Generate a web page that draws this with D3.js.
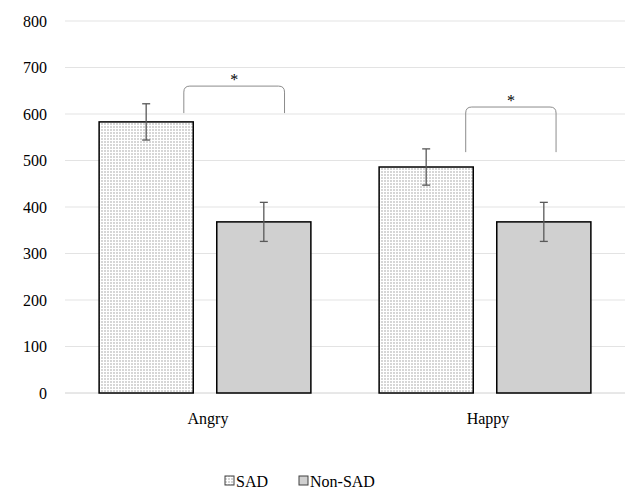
<!DOCTYPE html>
<html>
<head>
<meta charset="utf-8">
<script src="https://cdn.jsdelivr.net/npm/d3@7"></script>
</head>
<body style="margin:0">
<script>
const categories = ["Angry", "Happy"];
const groups = ["SAD", "Non-SAD"];
const means = { "SAD": [583, 486], "Non-SAD": [368, 368] };
const errors = { "SAD": [39, 39], "Non-SAD": [42, 42] };
const yTicks = [0, 100, 200, 300, 400, 500, 600, 700, 800];
// significance brackets (values on the y scale)
const brackets = [
  { cat: "Angry", top: 660, bottom: 602 },
  { cat: "Happy", top: 615, bottom: 518 }
];

const width = 637, height = 491;
const margin = { top: 21, right: 12, bottom: 98, left: 65 };
const font = "Liberation Serif, serif";

const svg = d3.select("body").append("svg")
  .attr("width", width)
  .attr("height", height)
  .attr("font-family", font);

const defs = svg.append("defs");
const pat = defs.append("pattern")
  .attr("id", "dots")
  .attr("width", 3).attr("height", 3)
  .attr("patternUnits", "userSpaceOnUse");
pat.append("rect").attr("width", 3).attr("height", 3).attr("fill", "#ffffff");
pat.append("rect").attr("width", 2).attr("height", 2).attr("fill", "#d6d6d6");

const x0 = d3.scaleBand()
  .domain(categories)
  .range([margin.left, width - margin.right]);

const x1 = d3.scaleBand()
  .domain(groups)
  .range([0, x0.bandwidth()])
  .paddingInner(0.2)
  .paddingOuter(0.29);

const y = d3.scaleLinear()
  .domain([0, 800])
  .range([height - margin.bottom, margin.top]);

// gridlines
svg.append("g")
  .selectAll("line")
  .data(yTicks)
  .join("line")
  .attr("x1", margin.left)
  .attr("x2", width - margin.right)
  .attr("y1", d => y(d))
  .attr("y2", d => y(d))
  .attr("stroke", d => d === 0 ? "#d0d0d0" : "#e3e3e3")
  .attr("stroke-width", 1);

// y labels
svg.append("g")
  .selectAll("text")
  .data(yTicks)
  .join("text")
  .attr("x", 47)
  .attr("y", d => y(d))
  .attr("dy", "0.35em")
  .attr("text-anchor", "end")
  .attr("font-family", font)
  .attr("font-size", 16)
  .attr("fill", "#000")
  .text(d => d);

const fill = { "SAD": "url(#dots)", "Non-SAD": "#d0d0d0" };

const catG = svg.append("g")
  .selectAll("g")
  .data(categories)
  .join("g")
  .attr("transform", d => `translate(${x0(d)},0)`);

groups.forEach(g => {
  catG.append("rect")
    .attr("x", x1(g))
    .attr("width", x1.bandwidth())
    .attr("y", (d, i) => y(means[g][i]))
    .attr("height", (d, i) => y(0) - y(means[g][i]))
    .attr("fill", fill[g])
    .attr("stroke", "#000")
    .attr("stroke-width", 1.5);

  const cx = x1(g) + x1.bandwidth() / 2;
  catG.append("line")
    .attr("x1", cx).attr("x2", cx)
    .attr("y1", (d, i) => y(means[g][i] + errors[g][i]))
    .attr("y2", (d, i) => y(means[g][i] - errors[g][i]))
    .attr("stroke", "#595959").attr("stroke-width", 1.3);
  [1, -1].forEach(s => {
    catG.append("line")
      .attr("x1", cx - 4).attr("x2", cx + 4)
      .attr("y1", (d, i) => y(means[g][i] + s * errors[g][i]))
      .attr("y2", (d, i) => y(means[g][i] + s * errors[g][i]))
      .attr("stroke", "#595959").attr("stroke-width", 1.3);
  });
});

// category labels
svg.append("g")
  .selectAll("text")
  .data(categories)
  .join("text")
  .attr("x", d => x0(d) + x0.bandwidth() / 2 + 3)
  .attr("y", 424)
  .attr("text-anchor", "middle")
  .attr("font-family", font)
  .attr("font-size", 16)
  .text(d => d);

// significance brackets: from near the right of the SAD bar to inside the Non-SAD bar
const bracketEnds = { "Angry": [0.9, 0.72], "Happy": [0.92, 0.63] };
brackets.forEach(b => {
  const [fl, fr] = bracketEnds[b.cat];
  const left = x0(b.cat) + x1("SAD") + x1.bandwidth() * fl;
  const right = x0(b.cat) + x1("Non-SAD") + x1.bandwidth() * fr;
  const yt = y(b.top), yb = y(b.bottom);
  const p = d3.path();
  p.moveTo(left, yb);
  p.lineTo(left, yt + 6);
  p.quadraticCurveTo(left, yt, left + 6, yt);
  p.lineTo(right - 6, yt);
  p.quadraticCurveTo(right, yt, right, yt + 6);
  p.lineTo(right, yb);
  svg.append("path")
    .attr("d", p.toString())
    .attr("fill", "none")
    .attr("stroke", "#8c8c8c")
    .attr("stroke-width", 1);
  svg.append("text")
    .attr("x", (left + right) / 2)
    .attr("y", yt - 1)
    .attr("text-anchor", "middle")
    .attr("font-family", font)
    .attr("font-size", 16)
    .text("*");
});

// legend
const legend = svg.append("g").attr("transform", "translate(225,481)");
const legendItems = [{ name: "SAD", x: 0 }, { name: "Non-SAD", x: 74 }];
legendItems.forEach(it => {
  legend.append("rect")
    .attr("x", it.x).attr("y", -5)
    .attr("width", 9).attr("height", 9)
    .attr("fill", fill[it.name])
    .attr("stroke", "#404040").attr("stroke-width", 1);
  legend.append("text")
    .attr("x", it.x + 11)
    .attr("y", 0)
    .attr("dy", "0.35em")
    .attr("font-family", font)
    .attr("font-size", 16)
    .text(it.name);
});
</script>
</body>
</html>
